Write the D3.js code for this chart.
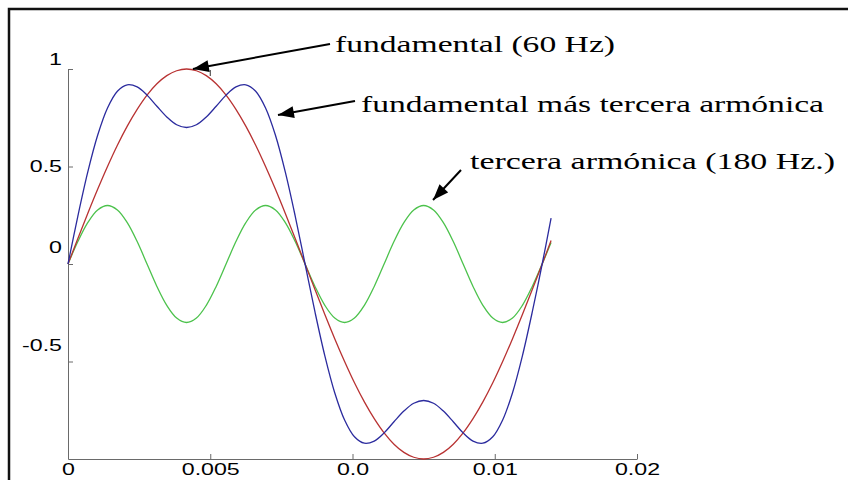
<!DOCTYPE html>
<html>
<head>
<meta charset="utf-8">
<script src="https://cdn.jsdelivr.net/npm/d3@7"></script>
<style>
  body { margin: 0; background: #fff; }
  .tick text { font-family: "Liberation Sans", Arial, sans-serif; font-size: 16px; fill: #000; }
  .annot { font-family: "Liberation Serif", "Times New Roman", serif; font-size: 24px; fill: #000; }
</style>
</head>
<body>
<div id="chart"></div>
<script>
// time axis (s)
const timeS = [0, 0.000347, 0.000694, 0.001042, 0.001389, 0.001736, 0.002083, 0.002431, 0.002778, 0.003125,
  0.003472, 0.003819, 0.004167, 0.004514, 0.004861, 0.005208, 0.005556, 0.005903, 0.006250, 0.006597,
  0.006944, 0.007292, 0.007639, 0.007986, 0.008333, 0.008681, 0.009028, 0.009375, 0.009722, 0.010069,
  0.010417, 0.010764, 0.011111, 0.011458, 0.011806, 0.012153, 0.012500, 0.012847, 0.013194, 0.013542,
  0.013889, 0.014236, 0.014583, 0.014931, 0.015278, 0.015625, 0.015972, 0.016319, 0.016667, 0.016980];

// red: fundamental
const fundamental = [0, 0.131, 0.259, 0.383, 0.5, 0.609, 0.707, 0.793, 0.866, 0.924,
  0.966, 0.991, 1, 0.991, 0.966, 0.924, 0.866, 0.793, 0.707, 0.609,
  0.5, 0.383, 0.259, 0.131, 0, -0.131, -0.259, -0.383, -0.5, -0.609,
  -0.707, -0.793, -0.866, -0.924, -0.966, -0.991, -1, -0.991, -0.966, -0.924,
  -0.866, -0.793, -0.707, -0.609, -0.5, -0.383, -0.259, -0.131, 0, 0.12];

// green: third harmonic
const thirdHarmonic = [0, 0.115, 0.212, 0.277, 0.3, 0.277, 0.212, 0.115, 0, -0.115,
  -0.212, -0.277, -0.3, -0.277, -0.212, -0.115, 0, 0.115, 0.212, 0.277,
  0.3, 0.277, 0.212, 0.115, 0, -0.115, -0.212, -0.277, -0.3, -0.277,
  -0.212, -0.115, 0, 0.115, 0.212, 0.277, 0.3, 0.277, 0.212, 0.115,
  0, -0.115, -0.212, -0.277, -0.3, -0.277, -0.212, -0.115, 0, 0.11];

// blue: fundamental plus third harmonic
const combined = [0, 0.246, 0.471, 0.66, 0.8, 0.886, 0.919, 0.908, 0.866, 0.809,
  0.754, 0.714, 0.7, 0.714, 0.754, 0.809, 0.866, 0.908, 0.919, 0.886,
  0.8, 0.66, 0.471, 0.246, 0, -0.246, -0.471, -0.66, -0.8, -0.886,
  -0.919, -0.908, -0.866, -0.809, -0.754, -0.714, -0.7, -0.714, -0.754, -0.809,
  -0.866, -0.908, -0.919, -0.886, -0.8, -0.66, -0.471, -0.246, 0, 0.235];

const xTickValues = [0, 0.005, 0.01, 0.015, 0.02];
const xTickLabels = ["0", "0.005", "0.0", "0.01", "0.02"];
const yTickValues = [1, 0.5, 0, -0.5];
const yTickLabels = ["1", "0.5", "0", "-0.5"];

const annotTexts = ["fundamental (60 Hz)", "fundamental más tercera armónica", "tercera armónica (180 Hz.)"];
// arrow tips, in data units
const annotTipT = [0.00439, 0.00738, 0.01283];
const annotTipV = [1.0, 0.764, 0.328];

const W = 848, H = 480;
const svg = d3.select("#chart").append("svg")
  .attr("width", W).attr("height", H);

// picture frame (runs off the right and bottom edge)
svg.append("rect")
  .attr("x", 9).attr("y", 9).attr("width", 900).attr("height", 600)
  .attr("fill", "none").attr("stroke", "#111").attr("stroke-width", 2.5);

const xScale = d3.scaleLinear().domain([0, 0.02]).range([68, 637]);
const yScale = d3.scaleLinear().domain([-1, 1]).range([459, 69]);

const axisColor = "#6a6a6a";
const stretch = 1.45; // the source picture is stretched sideways

// x axis
const xAxis = svg.append("g")
  .attr("transform", `translate(0,${yScale(-1)})`)
  .call(d3.axisBottom(xScale)
    .tickValues(xTickValues)
    .tickFormat((d, i) => xTickLabels[i])
    .tickSizeInner(-5).tickSizeOuter(0).tickPadding(5));
xAxis.select(".domain").attr("stroke", axisColor);
xAxis.selectAll(".tick line").attr("stroke", axisColor);
xAxis.selectAll(".tick text").attr("transform", `scale(${stretch},1)`);

// leftover tick of the top axis
svg.append("line")
  .attr("x1", xScale(0.005)).attr("x2", xScale(0.005))
  .attr("y1", yScale(1) + 1).attr("y2", yScale(1) + 7)
  .attr("stroke", "#333").attr("stroke-width", 1);

// y axis
const yLabelShift = [-10, 0, -17, -16];
const yAxis = svg.append("g")
  .attr("transform", `translate(${xScale(0)},0)`)
  .call(d3.axisLeft(yScale)
    .tickValues(yTickValues)
    .tickFormat((d, i) => yTickLabels[i])
    .tickSizeInner(-5).tickSizeOuter(0).tickPadding(6));
yAxis.select(".domain").attr("stroke", axisColor);
yAxis.selectAll(".tick line").attr("stroke", axisColor);
yAxis.selectAll(".tick text")
  .attr("x", -6 / stretch)
  .attr("y", (d, i) => yLabelShift[i])
  .attr("transform", `scale(${stretch},1)`);

// curves
const series = [
  { values: thirdHarmonic, color: "#4cc24c" },
  { values: fundamental, color: "#b83232" },
  { values: combined, color: "#2b2b9e" }
];
const line = d3.line()
  .x((d, i) => xScale(timeS[i]))
  .y((d) => yScale(d))
  .curve(d3.curveCatmullRom);

svg.selectAll("path.curve")
  .data(series)
  .enter()
  .append("path")
  .attr("class", "curve")
  .attr("d", (d) => line(d.values))
  .attr("fill", "none")
  .attr("stroke", (d) => d.color)
  .attr("stroke-width", 1.3);

// annotations
svg.append("defs").append("marker")
  .attr("id", "head")
  .attr("markerUnits", "userSpaceOnUse")
  .attr("viewBox", "0 0 16 12")
  .attr("refX", 16).attr("refY", 6)
  .attr("markerWidth", 17).attr("markerHeight", 12)
  .attr("orient", "auto")
  .append("path")
  .attr("d", "M0,0 L16,6 L0,12 Z")
  .attr("fill", "#000");

const annotText = [
  { x: 335, y: 52, len: 280 },
  { x: 361, y: 112, len: 463 },
  { x: 470, y: 169, len: 365 }
];
const annotTail = [[330, 44], [355, 101], [461, 170]];

annotTexts.forEach((txt, i) => {
  svg.append("line")
    .attr("x1", annotTail[i][0]).attr("y1", annotTail[i][1])
    .attr("x2", xScale(annotTipT[i])).attr("y2", yScale(annotTipV[i]))
    .attr("stroke", "#000").attr("stroke-width", 2)
    .attr("marker-end", "url(#head)");

  svg.append("text")
    .attr("class", "annot")
    .attr("x", annotText[i].x).attr("y", annotText[i].y)
    .attr("textLength", annotText[i].len)
    .attr("lengthAdjust", "spacingAndGlyphs")
    .text(txt);
});
</script>
</body>
</html>
